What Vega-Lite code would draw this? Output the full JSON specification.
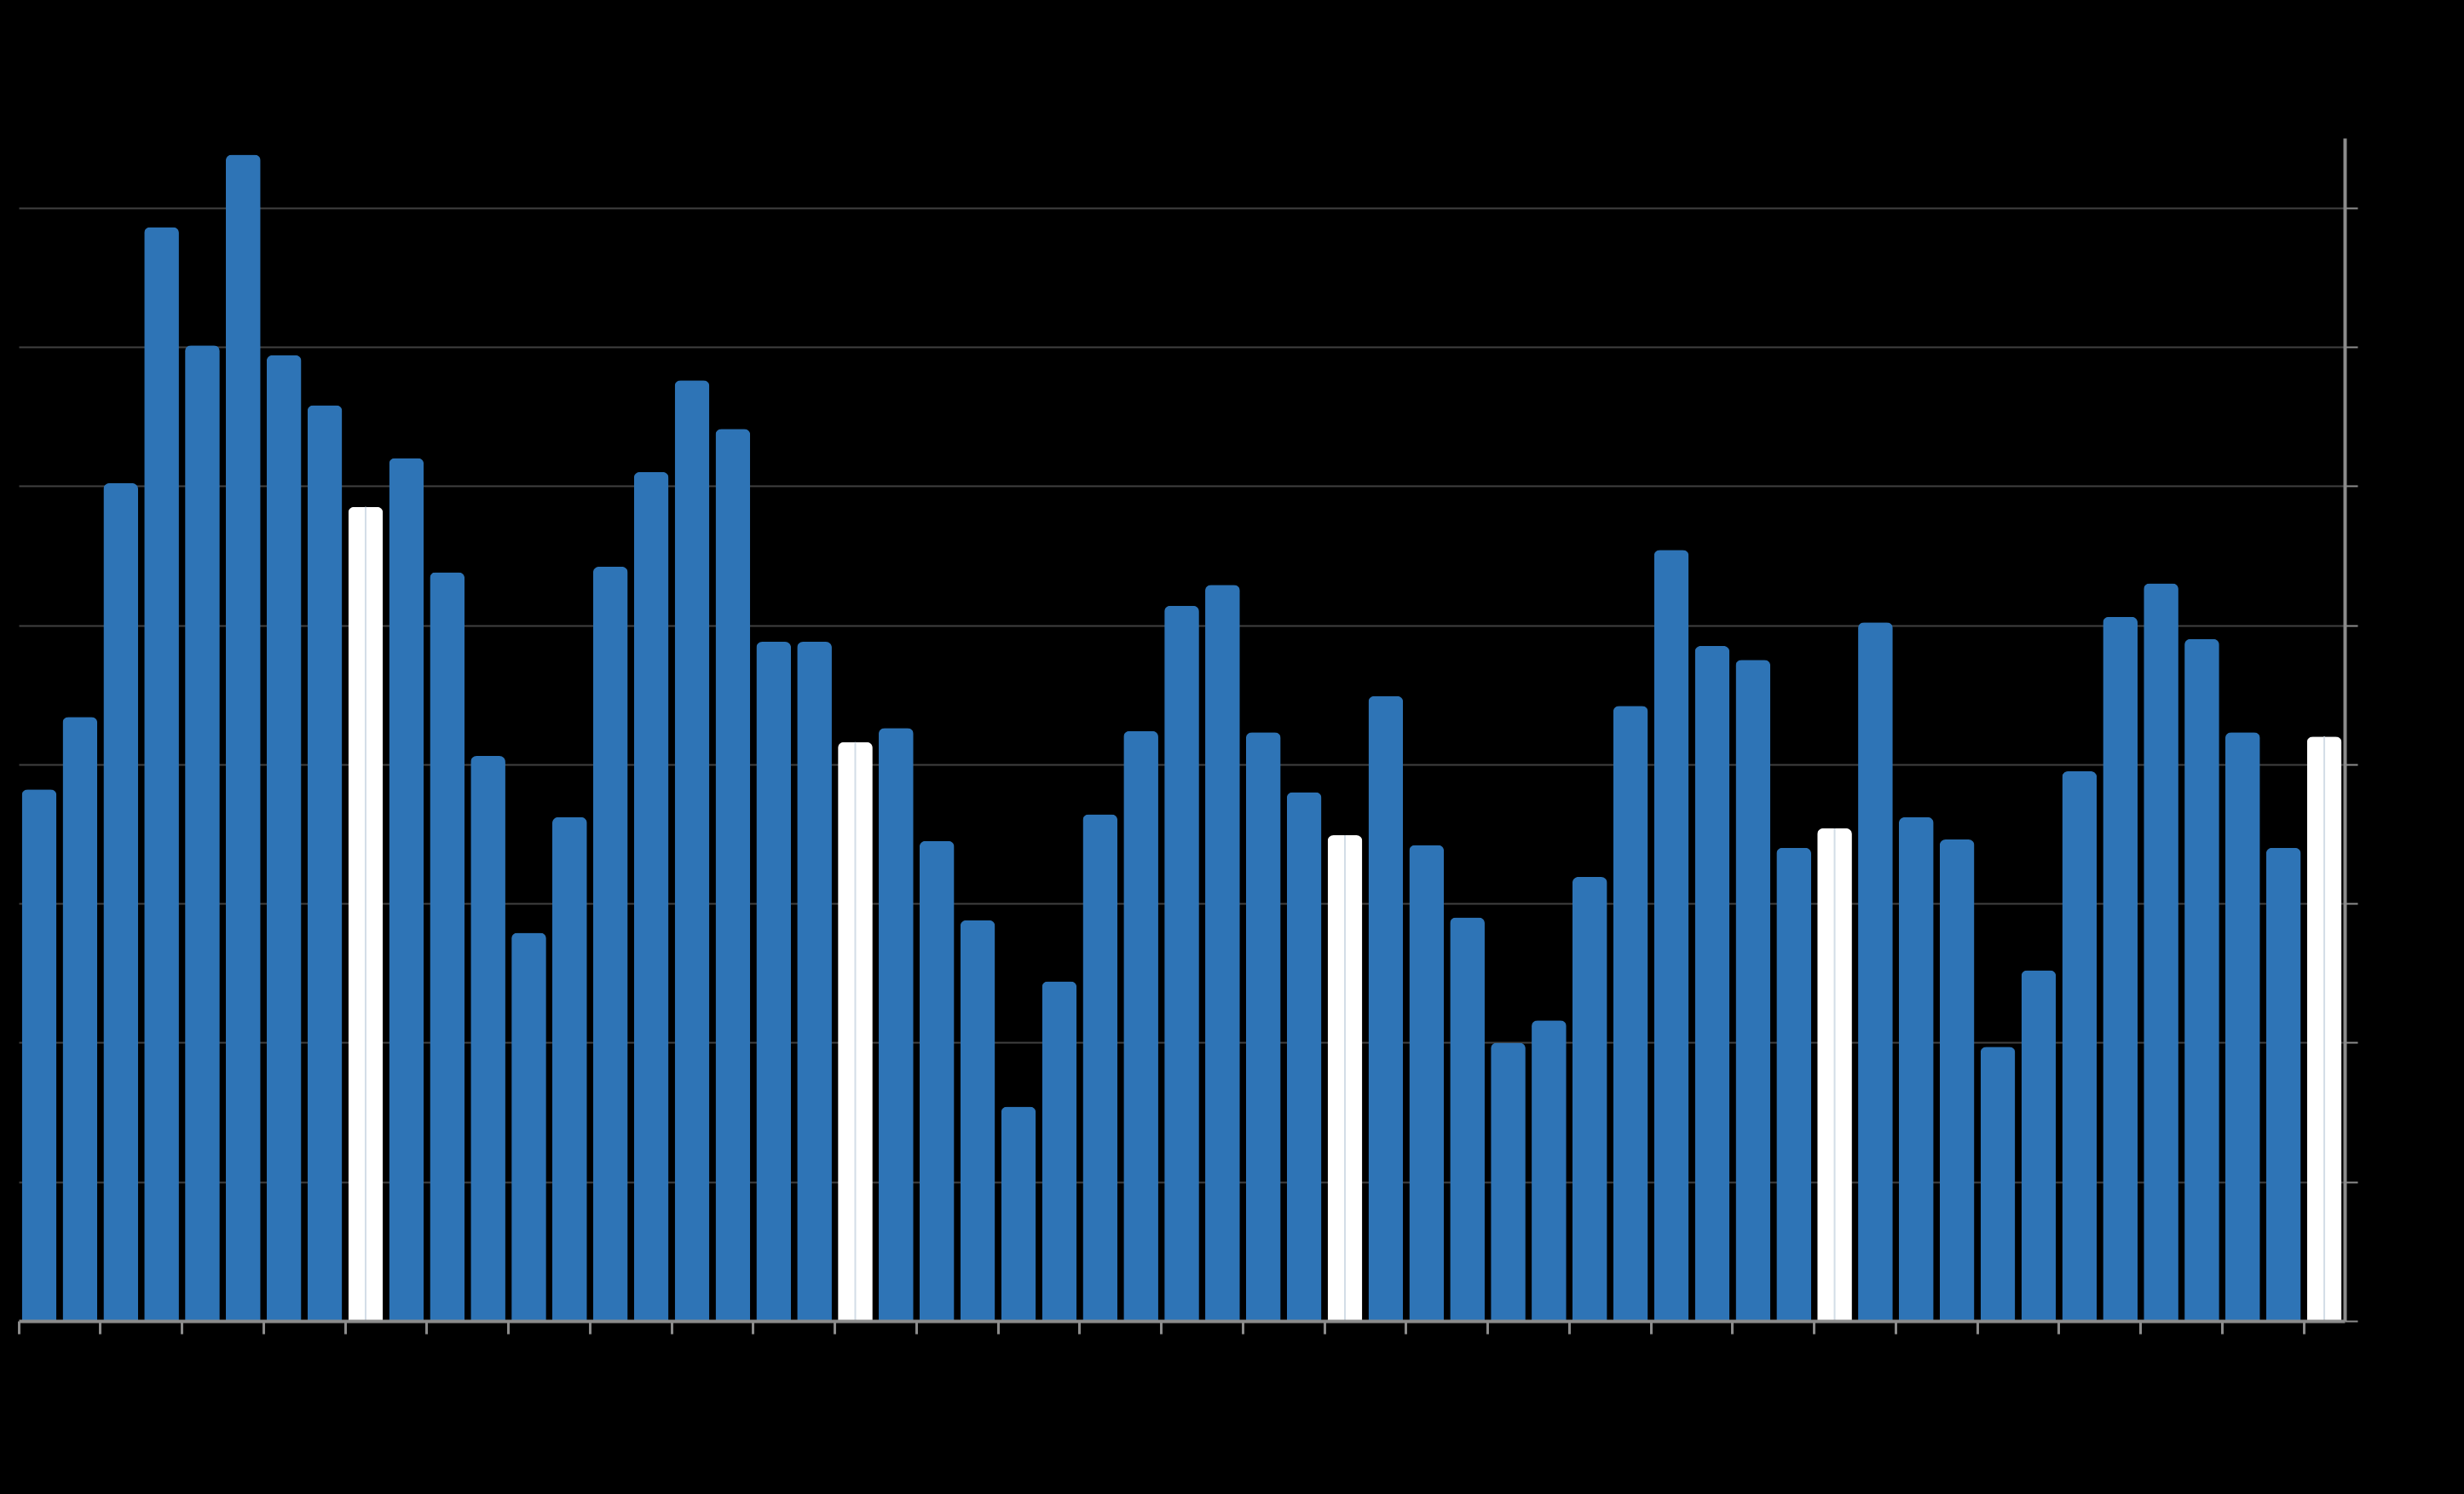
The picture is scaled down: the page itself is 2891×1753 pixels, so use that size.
{
  "$schema": "https://vega.github.io/schema/vega-lite/v6.json",
  "autosize": "none",
  "width": 2729,
  "height": 1388,
  "padding": {"left": 22, "top": 162, "right": 140, "bottom": 203},
  "background": "#000000",
  "config": {"view": {"stroke": null}},
  "data": {
    "values": [
      {"period": "P01", "value": 38.2, "type": "regular"},
      {"period": "P02", "value": 43.4, "type": "regular"},
      {"period": "P03", "value": 60.2, "type": "regular"},
      {"period": "P04", "value": 78.6, "type": "regular"},
      {"period": "P05", "value": 70.1, "type": "regular"},
      {"period": "P06", "value": 83.8, "type": "regular"},
      {"period": "P07", "value": 69.4, "type": "regular"},
      {"period": "P08", "value": 65.8, "type": "regular"},
      {"period": "P09", "value": 58.5, "type": "highlight"},
      {"period": "P10", "value": 62.0, "type": "regular"},
      {"period": "P11", "value": 53.8, "type": "regular"},
      {"period": "P12", "value": 40.6, "type": "regular"},
      {"period": "P13", "value": 27.9, "type": "regular"},
      {"period": "P14", "value": 36.2, "type": "regular"},
      {"period": "P15", "value": 54.2, "type": "regular"},
      {"period": "P16", "value": 61.0, "type": "regular"},
      {"period": "P17", "value": 67.6, "type": "regular"},
      {"period": "P18", "value": 64.1, "type": "regular"},
      {"period": "P19", "value": 48.8, "type": "regular"},
      {"period": "P20", "value": 48.8, "type": "regular"},
      {"period": "P21", "value": 41.6, "type": "highlight"},
      {"period": "P22", "value": 42.6, "type": "regular"},
      {"period": "P23", "value": 34.5, "type": "regular"},
      {"period": "P24", "value": 28.8, "type": "regular"},
      {"period": "P25", "value": 15.4, "type": "regular"},
      {"period": "P26", "value": 24.4, "type": "regular"},
      {"period": "P27", "value": 36.4, "type": "regular"},
      {"period": "P28", "value": 42.4, "type": "regular"},
      {"period": "P29", "value": 51.4, "type": "regular"},
      {"period": "P30", "value": 52.9, "type": "regular"},
      {"period": "P31", "value": 42.3, "type": "regular"},
      {"period": "P32", "value": 38.0, "type": "regular"},
      {"period": "P33", "value": 34.9, "type": "highlight"},
      {"period": "P34", "value": 44.9, "type": "regular"},
      {"period": "P35", "value": 34.2, "type": "regular"},
      {"period": "P36", "value": 29.0, "type": "regular"},
      {"period": "P37", "value": 20.0, "type": "regular"},
      {"period": "P38", "value": 21.6, "type": "regular"},
      {"period": "P39", "value": 31.9, "type": "regular"},
      {"period": "P40", "value": 44.2, "type": "regular"},
      {"period": "P41", "value": 55.4, "type": "regular"},
      {"period": "P42", "value": 48.5, "type": "regular"},
      {"period": "P43", "value": 47.5, "type": "regular"},
      {"period": "P44", "value": 34.0, "type": "regular"},
      {"period": "P45", "value": 35.4, "type": "highlight"},
      {"period": "P46", "value": 50.2, "type": "regular"},
      {"period": "P47", "value": 36.2, "type": "regular"},
      {"period": "P48", "value": 34.6, "type": "regular"},
      {"period": "P49", "value": 19.7, "type": "regular"},
      {"period": "P50", "value": 25.2, "type": "regular"},
      {"period": "P51", "value": 39.5, "type": "regular"},
      {"period": "P52", "value": 50.6, "type": "regular"},
      {"period": "P53", "value": 53.0, "type": "regular"},
      {"period": "P54", "value": 49.0, "type": "regular"},
      {"period": "P55", "value": 42.3, "type": "regular"},
      {"period": "P56", "value": 34.0, "type": "regular"},
      {"period": "P57", "value": 42.0, "type": "highlight"}
    ]
  },
  "layer": [
    {
      "mark": {"type": "bar", "cornerRadiusTopLeft": 7, "cornerRadiusTopRight": 7},
      "encoding": {
        "x": {
          "field": "period",
          "type": "ordinal",
          "sort": null,
          "scale": {"paddingInner": 0.15, "paddingOuter": 0.075},
          "axis": {
            "values": ["P01","P03","P05","P07","P09","P11","P13","P15","P17","P19","P21","P23","P25","P27","P29","P31","P33","P35","P37","P39","P41","P43","P45","P47","P49","P51","P53","P55","P57"],
            "labels": false,
            "title": null,
            "domainColor": "#8c8c8c",
            "domainWidth": 4,
            "tickColor": "#8c8c8c",
            "tickWidth": 3,
            "tickSize": 15,
            "bandPosition": -0.088,
            "zindex": 1
          }
        },
        "y": {
          "field": "value",
          "type": "quantitative",
          "scale": {"domain": [0, 85], "nice": false},
          "axis": {
            "orient": "right",
            "values": [0, 10, 20, 30, 40, 50, 60, 70, 80],
            "labels": false,
            "title": null,
            "grid": true,
            "gridColor": "#404040",
            "gridWidth": 2,
            "domainColor": "#8c8c8c",
            "domainWidth": 4,
            "tickColor": "#8c8c8c",
            "tickWidth": 2,
            "tickSize": 15
          }
        },
        "color": {
          "field": "type",
          "type": "nominal",
          "scale": {"domain": ["regular", "highlight"], "range": ["#2e74b6", "#ffffff"]},
          "legend": null
        }
      }
    },
    {
      "transform": [{"filter": "datum.type === 'highlight'"}],
      "mark": {"type": "rule", "color": "#d3dde7", "strokeWidth": 2},
      "encoding": {
        "x": {"field": "period", "type": "ordinal", "sort": null},
        "y": {"field": "value", "type": "quantitative"},
        "y2": {"datum": 0}
      }
    }
  ]
}
